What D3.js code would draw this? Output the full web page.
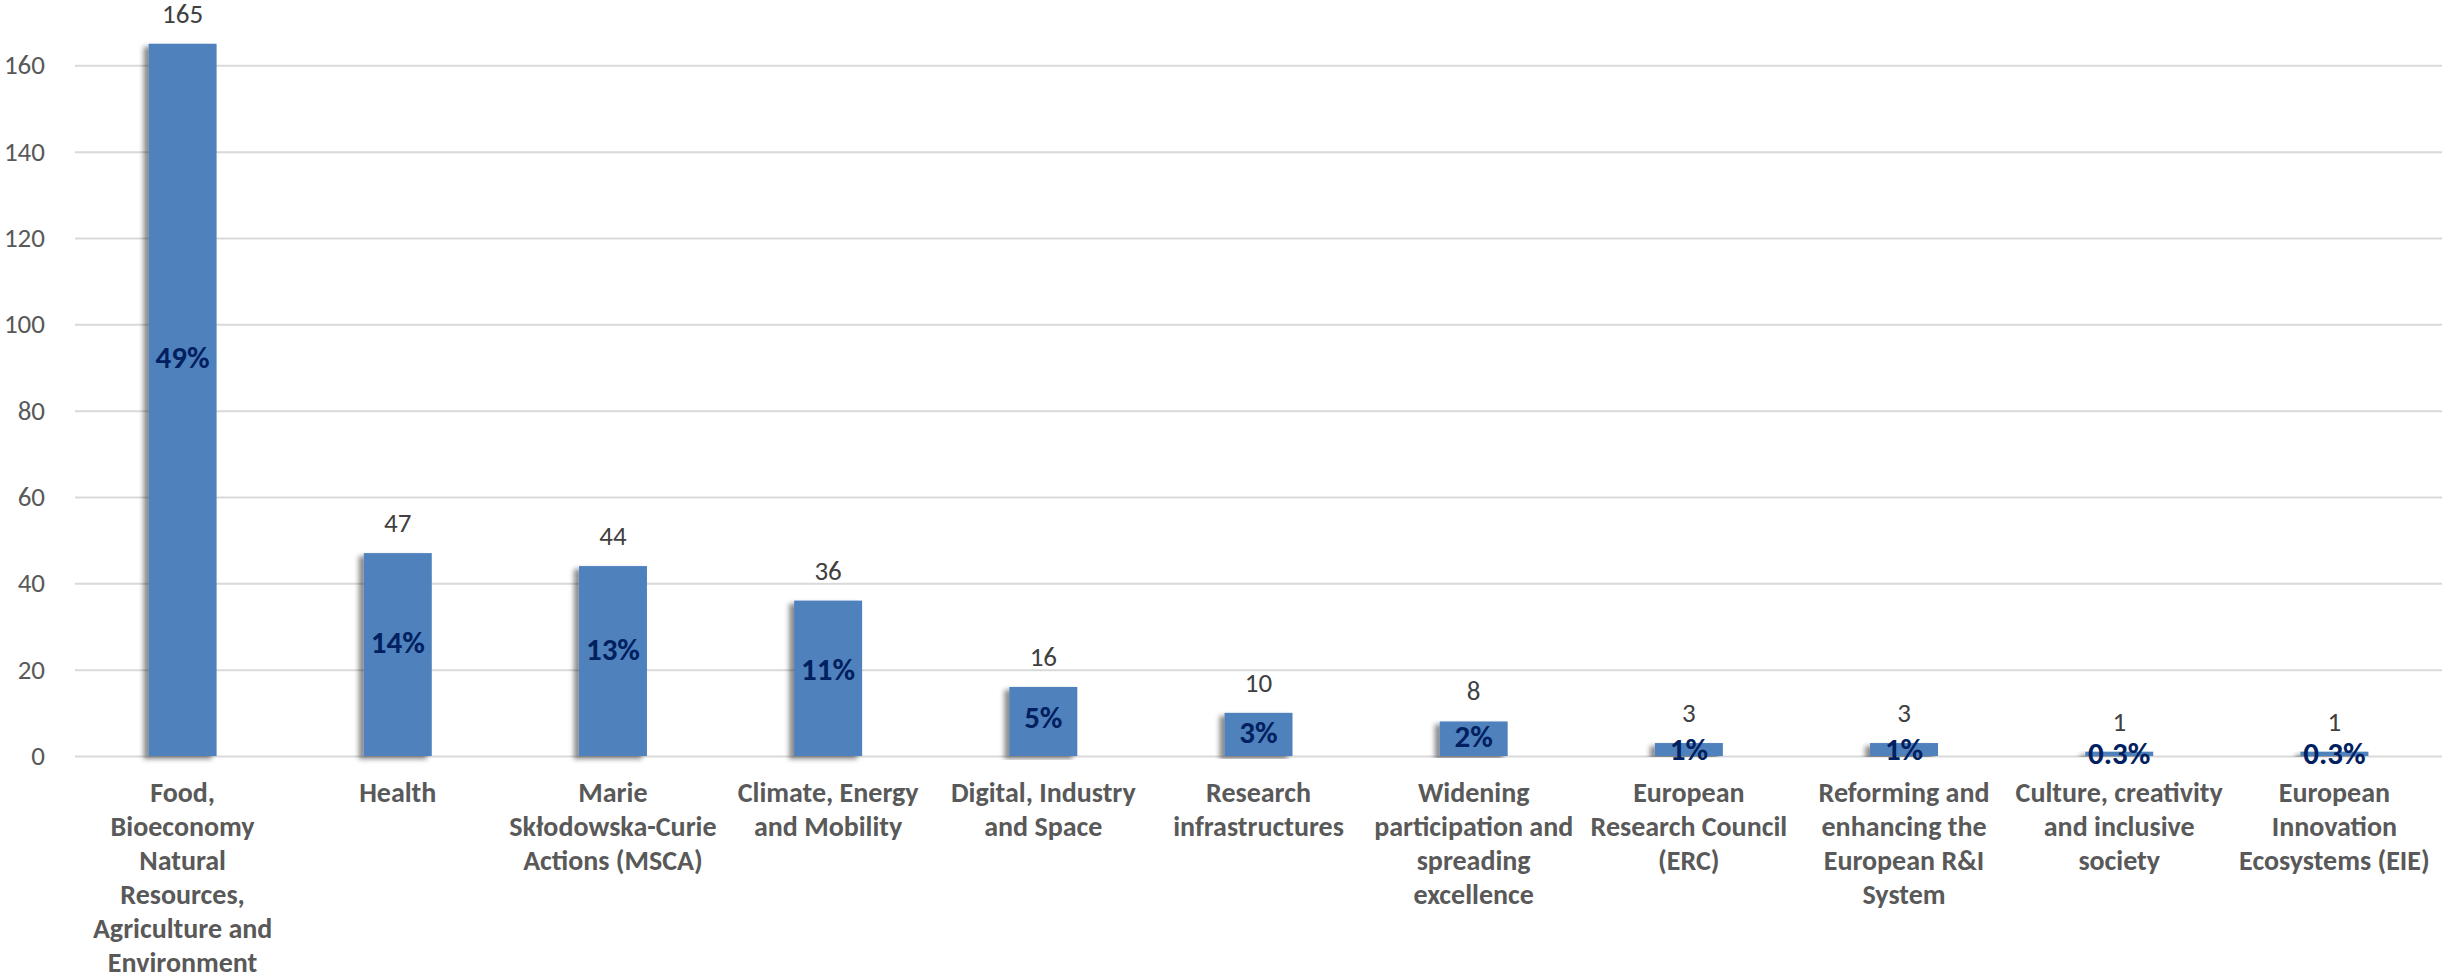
<!DOCTYPE html>
<html>
<head>
<meta charset="utf-8">
<script src="https://cdn.jsdelivr.net/npm/d3@7"></script>
<style>
  html, body { margin: 0; padding: 0; background: #fff; }
  svg { display: block; }
</style>
</head>
<body>
<svg id="chart" width="2442" height="976"></svg>
<script>
// values
const categories = [
  "Food,\nBioeconomy\nNatural\nResources,\nAgriculture and\nEnvironment",
  "Health",
  "Marie\nSkłodowska-Curie\nActions (MSCA)",
  "Climate, Energy\nand Mobility",
  "Digital, Industry\nand Space",
  "Research\ninfrastructures",
  "Widening\nparticipation and\nspreading\nexcellence",
  "European\nResearch Council\n(ERC)",
  "Reforming and\nenhancing the\nEuropean R&I\nSystem",
  "Culture, creativity\nand inclusive\nsociety",
  "European\nInnovation\nEcosystems (EIE)"
];
const values = [165, 47, 44, 36, 16, 10, 8, 3, 3, 1, 1];
const pctLabels = ["49%", "14%", "13%", "11%", "5%", "3%", "2%", "1%", "1%", "0.3%", "0.3%"];
const yTicks = [0, 20, 40, 60, 80, 100, 120, 140, 160];

const W = 2442, H = 976;
const plotLeft = 75, plotBottom = 756, plotTop = -21;
const font = "Carlito, Calibri, Lato, sans-serif";

const svg = d3.select("#chart");

// shadow on the left of the bars
const defs = svg.append("defs");
const f = defs.append("filter").attr("id", "shadow")
  .attr("x", "-30%").attr("y", "-5%").attr("width", "160%").attr("height", "110%");
f.append("feDropShadow")
  .attr("dx", -5).attr("dy", 3).attr("stdDeviation", 2.5)
  .attr("flood-color", "#000").attr("flood-opacity", 0.45);

let x = d3.scaleBand()
  .domain(categories)
  .range([plotLeft, W])
  .paddingInner(0.684)
  .paddingOuter(0.342);

// axis runs to 180, the top of the plot is cut off by the picture
let y = d3.scaleLinear().domain([0, 180]).range([plotBottom, plotTop]);

// percentages sit on a hidden secondary series
const total = d3.sum(values);
let yPct = d3.scaleLinear().domain([0, 0.48]).range([plotBottom, plotTop]);

// gridlines
svg.append("g")
  .attr("transform", `translate(${plotLeft},0)`)
  .call(d3.axisLeft(y).tickValues(yTicks).tickSize(-(W - plotLeft)).tickFormat(""))
  .call(g => g.select(".domain").remove())
  .call(g => g.selectAll("line").attr("stroke", "#d9d9d9").attr("stroke-width", 2));

// y tick labels
svg.append("g")
  .attr("transform", `translate(${plotLeft},0)`)
  .call(d3.axisLeft(y).tickValues(yTicks).tickSize(0).tickPadding(30))
  .call(g => g.select(".domain").remove())
  .call(g => g.selectAll("text")
    .attr("fill", "#595959")
    .style("font-family", font)
    .style("font-size", "27px"));

// bars
svg.append("g")
  .selectAll("rect")
  .data(values)
  .enter()
  .append("rect")
  .attr("x", (d, i) => x(categories[i]))
  .attr("width", x.bandwidth())
  .attr("y", d => y(d))
  .attr("height", d => y(0) - y(d))
  .attr("fill", "#4f81bd")
  .attr("filter", "url(#shadow)");

// value labels above bars
svg.append("g")
  .selectAll("text")
  .data(values)
  .enter()
  .append("text")
  .attr("x", (d, i) => x(categories[i]) + x.bandwidth() / 2)
  .attr("y", d => y(d) - 21)
  .attr("text-anchor", "middle")
  .attr("fill", "#404040")
  .style("font-family", font)
  .style("font-size", "27px")
  .text(d => d);

// percentage labels
svg.append("g")
  .selectAll("text")
  .data(values)
  .enter()
  .append("text")
  .attr("x", (d, i) => x(categories[i]) + x.bandwidth() / 2)
  .attr("y", d => (yPct(0) + Math.max(yPct(d / total), plotTop - 20)) / 2)
  .attr("dy", "0.35em")
  .attr("text-anchor", "middle")
  .attr("fill", "#002060")
  .style("font-family", font)
  .style("font-size", "31px")
  .style("font-weight", "bold")
  .text((d, i) => pctLabels[i]);

// category labels
let cat = svg.append("g")
  .selectAll("text")
  .data(categories)
  .enter()
  .append("text")
  .attr("x", d => x(d) + x.bandwidth() / 2)
  .attr("y", 802)
  .attr("text-anchor", "middle")
  .attr("fill", "#595959")
  .style("font-family", font)
  .style("font-size", "28px")
  .style("font-weight", "bold");

cat.selectAll("tspan")
  .data(d => d.split("\n"))
  .enter()
  .append("tspan")
  .attr("x", function () { return this.parentNode.getAttribute("x"); })
  .attr("dy", (d, i) => i ? 34 : 0)
  .text(d => d);
</script>
</body>
</html>
